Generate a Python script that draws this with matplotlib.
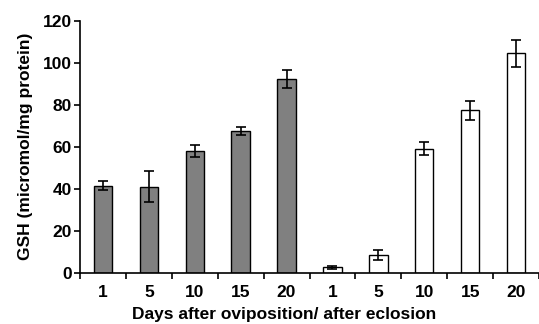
import numpy as np
import matplotlib.pyplot as plt

plt.rcParams['font.family'] = ['Liberation Sans', 'DejaVu Sans']
plt.rcParams['font.weight'] = 'bold'

# data
days = ["1", "5", "10", "15", "20"]
ovi_mean = [41.5, 41.0, 58.0, 67.6, 92.4]
ovi_err = [2.0, 7.5, 3.0, 2.0, 4.3]
ecl_mean = [2.5, 8.5, 59.0, 77.3, 104.5]
ecl_err = [0.9, 2.5, 3.0, 4.5, 6.5]

fig = plt.figure(figsize=(5.39, 3.24), dpi=100)
ax = fig.add_axes([80 / 539, 51.3 / 324, 459 / 539, 252 / 324])

n = len(days)
x_ovi = np.arange(n) + 0.5
x_ecl = np.arange(n) + n + 0.5
width = 0.4

err_kw = dict(ecolor="black", capsize=3.5, elinewidth=1.2, capthick=1.2)
ax.bar(x_ovi, ovi_mean, width, yerr=ovi_err, color="#808080",
       edgecolor="black", linewidth=1.0, error_kw=err_kw)
ax.bar(x_ecl, ecl_mean, width, yerr=ecl_err, color="white",
       edgecolor="black", linewidth=1.0, error_kw=err_kw)

ax.set_xlim(0, 2 * n)
ax.set_ylim(0, 120)
ax.set_yticks(np.arange(0, 121, 20))

# tick marks between categories, labels at centres
ax.set_xticks(np.arange(0, 2 * n + 1))
ax.set_xticklabels([])
ax.set_xticks(np.concatenate([x_ovi, x_ecl]), minor=True)
ax.set_xticklabels(days + days, minor=True)
ax.tick_params(axis="x", which="major", length=4, width=1.2, direction="out")
ax.tick_params(axis="x", which="minor", length=0, pad=9, labelsize=12.5)
ax.tick_params(axis="y", length=4, width=1.2, direction="out", labelsize=12.5,
               pad=2)

for s in ["top", "right"]:
    ax.spines[s].set_visible(False)
for s in ["left", "bottom"]:
    ax.spines[s].set_linewidth(1.2)

ax.set_ylabel("GSH (micromol/mg protein)", fontsize=12.5, fontweight="bold",
              labelpad=7)
ax.set_xlabel("Days after oviposition/ after eclosion", fontsize=12.5,
              fontweight="bold", labelpad=4)
ax.xaxis.set_label_coords(0.444, -0.135)

fig.savefig("out.png", dpi=100)
